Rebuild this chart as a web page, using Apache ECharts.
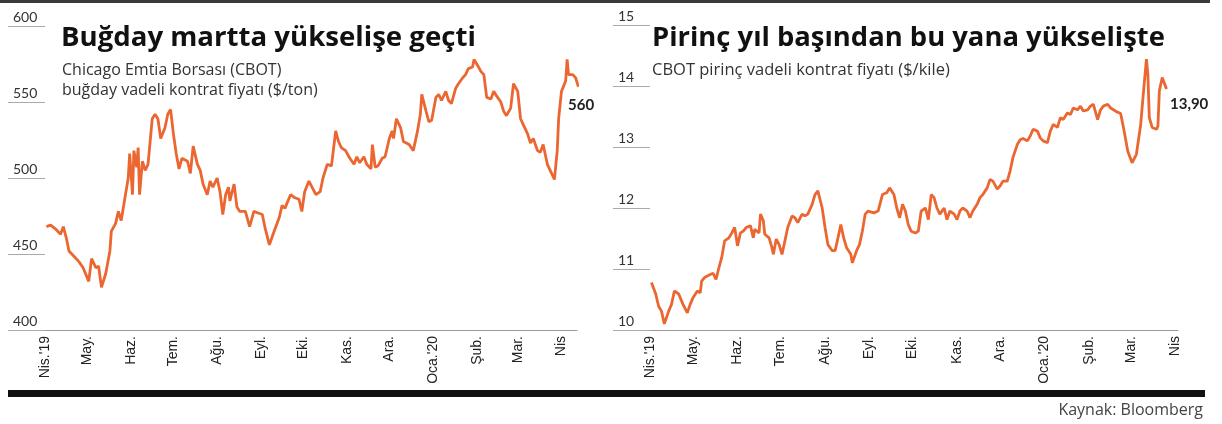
<!DOCTYPE html>
<html>
<head>
<meta charset="utf-8">
<script src="https://cdn.jsdelivr.net/npm/echarts@6/dist/echarts.min.js"></script>
<style>
html,body{margin:0;padding:0;background:#fff;}
#c{width:1222px;height:424px;}
</style>
</head>
<body>
<div id="c"></div>
<script>
// Month tick positions (days since 1 Apr 2019) and labels
const monthDays = [0, 30, 61, 91, 122, 153, 183, 214, 244, 275, 306, 335, 366];
const monthLabels = ["Nis.'19", "May.", "Haz.", "Tem.", "Ağu.", "Eyl.", "Eki.", "Kas.", "Ara.", "Oca.'20", "Şub.", "Mar.", "Nis"];

// Wheat (CBOT, $/ton)
const wheatDay = [1,4,8,11,13,15,17,20,24,27,31,33,36,38,40,43,46,47,50,52,54,57,59,60,62,63,65,66,67,69,71,73,76,78,80,82,85,87,89,91,93,95,97,101,103,105,108,110,112,115,117,119,122,124,126,128,130,131,134,136,138,142,145,148,151,154,156,159,162,166,168,170,174,177,180,182,184,187,192,195,197,200,203,206,208,210,213,216,219,221,223,226,228,231,232,234,236,239,241,244,246,247,249,252,254,258,261,264,266,267,270,272,274,277,279,281,284,286,288,291,293,296,298,300,303,304,306,309,311,313,316,318,320,323,325,327,330,332,335,337,339,342,344,346,349,351,353,356,358,361,363,364,366,369,370,371,374,376,378];
const wheatPrice = [468,469,466,463,468,461,452,449,445,441,432,447,441,442,428,437,452,465,470,478,472,489,500,516,489,518,507,520,489,511,505,509,539,542,539,526,533,542,545,529,516,506,513,511,503,521,509,505,496,489,498,494,500,491,476,489,494,485,496,481,478,478,468,478,477,476,467,456,464,474,482,480,489,487,486,478,491,498,489,491,500,509,508,531,524,520,518,513,509,514,510,514,509,506,522,507,508,513,514,526,531,526,539,533,524,522,518,531,542,555,544,537,538,553,555,551,557,551,549,559,562,566,568,572,573,578,575,570,568,553,552,557,554,550,544,541,546,562,557,539,535,529,523,526,518,517,522,509,505,499,518,539,557,564,578,568,568,566,560];

// Rice (CBOT, $/bushel)
const riceDay = [1,4,6,8,10,13,15,17,20,23,26,28,30,33,35,36,38,42,44,46,48,50,52,55,57,59,61,63,65,67,70,72,73,76,77,79,80,83,85,86,88,90,92,94,96,99,101,103,106,108,110,113,115,117,120,122,124,127,129,131,133,135,137,140,141,144,146,148,150,152,156,159,162,165,167,170,172,174,176,178,180,182,185,187,189,192,194,196,198,200,202,205,207,209,212,214,216,218,221,223,225,228,230,232,235,237,239,242,244,246,249,251,253,256,258,260,263,265,267,270,272,274,277,279,281,284,286,288,291,293,295,298,300,302,305,307,309,312,314,316,319,321,323,325,328,330,333,336,339,342,344,346,347,348,350,353,354,355,357,358,360];
const ricePrice = [10.78,10.59,10.39,10.31,10.1,10.31,10.42,10.64,10.59,10.42,10.28,10.42,10.53,10.64,10.61,10.8,10.86,10.91,10.93,10.83,11.02,11.19,11.46,11.51,11.59,11.68,11.38,11.59,11.62,11.68,11.71,11.51,11.65,11.59,11.9,11.79,11.57,11.51,11.35,11.24,11.49,11.4,11.24,11.46,11.68,11.87,11.84,11.76,11.9,11.87,11.9,12.06,12.22,12.28,12.0,11.68,11.4,11.3,11.3,11.51,11.73,11.51,11.35,11.24,11.1,11.3,11.4,11.62,11.9,11.95,11.92,11.95,12.22,12.25,12.33,12.22,12.0,11.84,12.06,11.95,11.73,11.62,11.59,11.62,11.95,12.0,11.81,12.22,12.17,12.0,11.9,12.0,11.81,11.95,11.9,11.81,11.95,12.0,11.95,11.84,11.95,12.06,12.17,12.22,12.33,12.47,12.44,12.31,12.36,12.44,12.44,12.61,12.83,13.04,13.12,13.14,13.1,13.18,13.29,13.26,13.15,13.1,13.07,13.26,13.37,13.32,13.48,13.45,13.56,13.53,13.64,13.61,13.67,13.59,13.61,13.67,13.7,13.45,13.61,13.67,13.7,13.64,13.61,13.58,13.55,13.32,12.93,12.74,12.88,13.37,13.92,14.44,14.19,13.48,13.32,13.29,13.34,13.92,14.14,14.17,13.95];

const wheatTicks = [400, 450, 500, 550, 600];
const riceTicks = [10, 11, 12, 13, 14, 15];

const lineColor = '#eb6630';
const hum = '"Open Sans", Lato, sans-serif';
const lato = 'Lato, "Open Sans", sans-serif';
const narrow = '"Liberation Sans", Arial, sans-serif';

function pairs(d, v) { return d.map((x, i) => [x, v[i]]); }

function xAxisCfg(idx, max) {
  return {
    gridIndex: idx, type: 'value', min: 0, max: max,
    axisLine: { show: true, lineStyle: { color: '#9a9a9a', width: 1 } },
    axisTick: { show: false },
    splitLine: { show: false },
    axisLabel: {
      customValues: monthDays,
      formatter: v => monthLabels[monthDays.indexOf(v)],
      rotate: 90, margin: 6, fontSize: 14, color: '#222', fontFamily: narrow
    }
  };
}
function yAxisCfg(idx, ticks) {
  return {
    gridIndex: idx, type: 'value', min: ticks[0], max: ticks[ticks.length - 1],
    interval: ticks[1] - ticks[0],
    axisLine: { show: false },
    axisTick: { show: true, length: 37, lineStyle: { color: '#aaa', width: 1 } },
    splitLine: { show: false },
    axisLabel: {
      align: 'left', margin: 32, verticalAlign: 'bottom', padding: [0, 0, 2, 0],
      fontSize: 14, color: '#333', fontFamily: lato
    }
  };
}

const chart = echarts.init(document.getElementById('c'), null, { renderer: 'canvas' });
chart.setOption({
  animation: false,
  grid: [
    { left: 45, top: 26, width: 532, height: 304 },
    { left: 650, top: 25, width: 528, height: 305 }
  ],
  xAxis: [xAxisCfg(0, 377), xAxisCfg(1, 368)],
  yAxis: [yAxisCfg(0, wheatTicks), yAxisCfg(1, riceTicks)],
  series: [
    { type: 'line', xAxisIndex: 0, yAxisIndex: 0, data: pairs(wheatDay, wheatPrice),
      showSymbol: false, lineStyle: { color: lineColor, width: 2.8 }, z: 5 },
    { type: 'line', xAxisIndex: 1, yAxisIndex: 1, data: pairs(riceDay, ricePrice),
      showSymbol: false, lineStyle: { color: lineColor, width: 2.8 }, z: 5 }
  ],
  graphic: [
    { type: 'rect', shape: { x: 0, y: 0, width: 1210, height: 3 }, style: { fill: '#3a3a3a' } },
    { type: 'rect', shape: { x: 8, y: 390, width: 1197, height: 7 }, style: { fill: '#111' } },
    { type: 'text', style: { x: 61, y: 38, text: 'Buğday martta yükselişe geçti', font: 'bold 27.6px ' + hum, fill: '#111', textVerticalAlign: 'middle' } },
    { type: 'text', style: { x: 62, y: 70, text: 'Chicago Emtia Borsası (CBOT)', font: '16px ' + hum, fill: '#333', textVerticalAlign: 'middle' } },
    { type: 'text', style: { x: 62, y: 90, text: 'buğday vadeli kontrat fiyatı ($/ton)', font: '16px ' + hum, fill: '#333', textVerticalAlign: 'middle' } },
    { type: 'text', style: { x: 652, y: 38, text: 'Pirinç yıl başından bu yana yükselişte', font: 'bold 27.4px ' + hum, fill: '#111', textVerticalAlign: 'middle' } },
    { type: 'text', style: { x: 652, y: 70, text: 'CBOT pirinç vadeli kontrat fiyatı ($/kile)', font: '16.5px ' + hum, fill: '#333', textVerticalAlign: 'middle' } },
    { type: 'text', style: { x: 568, y: 105, text: '560', font: 'bold 15px ' + lato, fill: '#222', textVerticalAlign: 'middle' } },
    { type: 'text', style: { x: 1170, y: 104, text: '13,90', font: 'bold 15px ' + lato, fill: '#222', textVerticalAlign: 'middle' } },
    { type: 'text', style: { x: 1203, y: 410, text: 'Kaynak: Bloomberg', font: '16px ' + hum, fill: '#444', textAlign: 'right', textVerticalAlign: 'middle' } }
  ]
});
</script>
</body>
</html>
